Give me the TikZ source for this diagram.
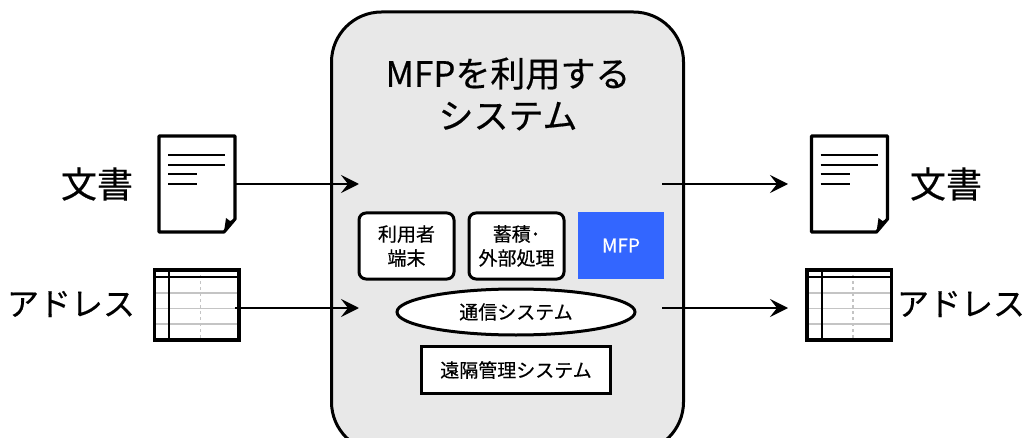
\documentclass[tikz,border=0pt]{standalone}
\usepackage{fontspec}
\setmainfont[FakeBold=0.45]{Noto Sans CJK JP}
\usetikzlibrary{arrows.meta}
\usetikzlibrary{shapes.geometric}
\definecolor{panelgray}{HTML}{E8E8E8}
\definecolor{mfpblue}{HTML}{3366FF}
\definecolor{rulegray}{HTML}{C4C4C4}
\newcommand{\fsize}[1]{\fontsize{#1}{#1}\selectfont}
\tikzset{
  flow/.style={line width=2.6pt,-{Stealth[length=18pt,width=18pt,inset=7pt]}},
  unit/.style={draw,fill=white,line width=3pt,inner sep=0pt,align=center,font=\fsize{19}},
  label/.style={inner sep=0pt,font=\fsize{36}},
  addr/.style={inner sep=0pt,font=\fsize{32}},
  pics/docicon/.style={code={
    \node[minimum width=78pt,minimum height=98pt,inner sep=0pt] (-body) at (0,0) {};
    \draw[fill=white,line width=3.2pt,line join=round] (-38,-48) -- (38,-48) -- (38,35) -- (27,48) -- (-38,48) -- cycle;
    \fill[line join=round] (27,48) -- (29,34) -- (33,37) -- (38,35) -- cycle;
    \foreach \y/\e in {-29/28,-19/28,-10/0,0/0}
      \draw[line width=1.4pt] (-29,\y) -- (\e,\y);
  }},
  pics/tableicon/.style={code={
    \node[minimum width=88pt,minimum height=73pt,inner sep=0pt] (-body) at (0,0) {};
    \fill[white] (-43.5,-36) rectangle (43.5,36);
    \foreach \y in {-12,3.5,19}
      \draw[rulegray,line width=1.4pt] (-43.5,\y) -- (43.5,\y);
    \draw[rulegray,line width=1.4pt,dashed] (3.5,-36) -- (3.5,36);
    \draw[line width=1.4pt] (-43.5,-28) -- (43.5,-28);
    \draw[line width=1.6pt] (-27.5,-36) -- (-27.5,36);
    \draw[line width=3.6pt] (-42.2,-34.8) rectangle (42.2,34.8);
  }}
}
\begin{document}
\begin{tikzpicture}[x=1pt,y=-1pt]
  \useasboundingbox (0,0) rectangle (1024,438);
  \clip (0,0) rectangle (1024,438);
  %panel
  \node[draw,fill=panelgray,line width=3pt,rounded corners=50pt,minimum width=352pt,minimum height=440pt,inner sep=0pt] (panel) at (507.5,232) {};
  \node[inner sep=0pt,align=center,font=\fsize{35}] (title) at (508,94) {MFPを利用する\\[7pt]システム};
  %inner units
  \node[unit,rounded corners=7pt,minimum width=95pt,minimum height=66pt] (terminal) at (406.5,246) {\raisebox{-1.5pt}{利用者}\\[5pt]\raisebox{-1.5pt}{端末}};
  \node[unit,rounded corners=7pt,minimum width=95pt,minimum height=66pt] (storage) at (516.5,246) {\raisebox{-1.5pt}{蓄積･}\\[5pt]\raisebox{-1.5pt}{外部処理}};
  \node[fill=mfpblue,text=white,inner sep=0pt,minimum width=86pt,minimum height=67pt,font=\fsize{19}] (mfp) at (621,245.5) {MFP};
  \node[unit,ellipse,minimum width=238pt,minimum height=46pt] (comm) at (516,312) {通信システム};
  \node[unit,minimum width=189pt,minimum height=47pt] (remote) at (516,370) {遠隔管理システム};
  %left
  \pic[name=dl,at={(197,184)}] {docicon};
  \pic[name=tl,at={(196.7,305)}] {tableicon};
  \node[label] (dltext) at (97,184) {文書};
  \node[addr] (tltext) at (71,304) {アドレス};
  %right
  \pic[name=dr,at={(849.5,184)}] {docicon};
  \pic[name=tr,at={(849.4,305)}] {tableicon};
  \node[label] (drtext) at (946,184) {文書};
  \node[addr] (trtext) at (961,304) {アドレス};
  %flows
  \coordinate (in1) at (359,184);
  \coordinate (in2) at (359,308);
  \coordinate (out1) at (662,184);
  \coordinate (out2) at (662,308);
  \coordinate (end1) at (788,184);
  \coordinate (end2) at (788,308);
  \draw[flow] (dl-body.east |- in1) -- (in1);
  \draw[flow] ([xshift=-6pt]tl-body.east |- in2) -- (in2);
  \draw[flow] (out1) -- (end1);
  \draw[flow] (out2) -- (end2);
\end{tikzpicture}
\end{document}
